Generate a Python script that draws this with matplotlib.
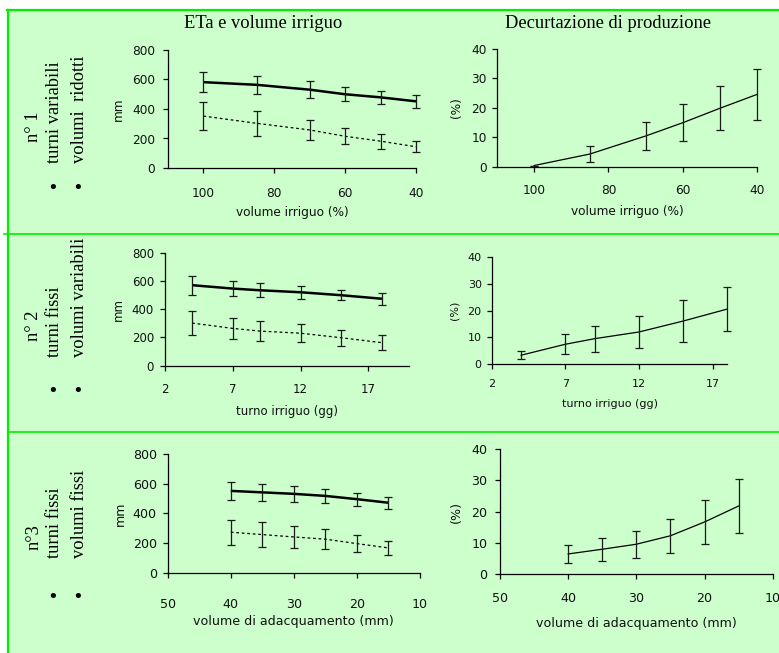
import matplotlib
matplotlib.use("Agg")
import matplotlib.pyplot as plt
from matplotlib.lines import Line2D
from matplotlib.patches import Rectangle

# ---------------- data ----------------
# row 1: variable turns, reduced volumes
vol_pct = [100, 85, 70, 60, 50, 40]
eta1 = [582, 564, 531, 500, 479, 452]
eta1_err = [70, 62, 57, 47, 44, 45]
irr1 = [352, 303, 258, 215, 182, 144]
irr1_err = [97, 83, 67, 55, 50, 37]
dec1 = [0.4, 4.3, 10.4, 14.9, 19.8, 24.5]
dec1_err = [0.0, 2.6, 4.8, 6.2, 7.4, 8.6]

# row 2: fixed turns, variable volumes
turno = [4, 7, 9, 12, 15, 18]
eta2 = [570, 546, 534, 520, 499, 474]
eta2_err = [68, 54, 50, 47, 37, 43]
irr2 = [302, 264, 245, 230, 198, 163]
irr2_err = [85, 74, 68, 62, 58, 55]
dec2 = [3.3, 7.4, 9.5, 12.0, 16.1, 20.6]
dec2_err = [1.4, 3.7, 4.9, 6.1, 8.0, 8.3]

# row 3: fixed turns, fixed volumes
vol_mm = [40, 35, 30, 25, 20, 15]
eta3 = [551, 541, 531, 517, 495, 471]
eta3_err = [60, 56, 52, 50, 44, 41]
irr3 = [272, 256, 240, 225, 195, 166]
irr3_err = [85, 82, 76, 68, 58, 47]
dec3 = [6.5, 8.0, 9.6, 12.3, 16.7, 21.8]
dec3_err = [3.0, 3.7, 4.3, 5.4, 7.1, 8.6]

titles = ["ETa e volume irriguo", "Decurtazione di produzione"]
row_names = ["n° 1", "n° 2", "n°3"]
row_line1 = ["turni variabili", "turni fissi", "turni fissi"]
row_line2 = ["volumi  ridotti", "volumi variabili", "volumi fissi"]
xlabels = ["volume irriguo (%)", "turno irriguo (gg)", "volume di adacquamento (mm)"]
xticks_rows = [[100, 80, 60, 40], [2, 7, 12, 17], [50, 40, 30, 20, 10]]
yticks_left = [0, 200, 400, 600, 800]
yticks_right = [0, 10, 20, 30, 40]

# ---------------- figure ----------------
W, H = 779, 653
fig = plt.figure(figsize=(W / 100, H / 100), dpi=100)
fig.patch.set_facecolor("white")

BG = "#CCFFCC"
GREEN = "#00F000"
SANS = ["DejaVu Sans"]
SERIF = ["Liberation Serif", "DejaVu Serif"]


def fx(px):
    return px / W


def fy(py):
    return 1 - py / H


fig.patches.append(Rectangle((fx(8), 0), 1 - fx(8), fy(10), transform=fig.transFigure,
                             facecolor=BG, edgecolor="none", zorder=-10))
for ln in [
    Line2D([fx(8), fx(8)], [0, fy(9.5)], color=GREEN, lw=1.6),
    Line2D([fx(7.3), 1], [fy(10), fy(10)], color=GREEN, lw=1.6),
    Line2D([fx(4), 1], [fy(234), fy(234)], color=GREEN, lw=1.2),
    Line2D([fx(8), 1], [fy(432), fy(432)], color=GREEN, lw=1.2),
]:
    ln.set_transform(fig.transFigure)
    ln.set_zorder(-5)
    fig.lines.append(ln)

# titles
fig.text(fx(263), fy(28.3), titles[0], family=SERIF, fontsize=13.3, ha="center", va="baseline")
fig.text(fx(608), fy(28.3), titles[1], family=SERIF, fontsize=13.3, ha="center", va="baseline")

# row labels
row_name_y = [127, 326, 537]
row_text_bottom = [163, 357, 558]
row_bullet_y = [188, 391, 597]
for i in range(3):
    fig.text(fx(34), fy(row_name_y[i]), row_names[i], family=SERIF, fontsize=13.3,
             rotation=90, ha="center", va="center")
    fig.text(fx(55), fy(row_text_bottom[i]), row_line1[i], family=SERIF, fontsize=13.3,
             rotation=90, ha="center", va="bottom")
    fig.text(fx(79), fy(row_text_bottom[i]), row_line2[i], family=SERIF, fontsize=13.3,
             rotation=90, ha="center", va="bottom")
    for bx in (53, 77.5):
        fig.text(fx(bx), fy(row_bullet_y[i]), "•", family=["DejaVu Sans"], fontsize=13,
                 ha="center", va="center")

# axes geometry in pixels: x0, x1, ytop, ybottom
geo = {
    (0, 0): (168, 416, 50, 168),
    (0, 1): (497, 757, 48.7, 166.7),
    (1, 0): (165, 409, 252.7, 365.7),
    (1, 1): (491.7, 727.3, 257.3, 364),
    (2, 0): (167.7, 420, 454, 572.5),
    (2, 1): (500, 772.7, 449, 574.3),
}
fsz = {(0, 0): 8.7, (0, 1): 8.7, (1, 0): 8.5, (1, 1): 8.0, (2, 0): 9.1, (2, 1): 9.1}
xpad = {(0, 0): 10, (0, 1): 9.1, (1, 0): 8.5, (1, 1): 6.9, (2, 0): 14.4, (2, 1): 8.9}
ypad = {(0, 0): 5.8, (0, 1): 3.8, (1, 0): 4.3, (1, 1): 3.6, (2, 0): 4.3, (2, 1): 5.5}
xlab_y = {(0, 0): 213, (0, 1): 212, (1, 0): 411.7, (1, 1): 404, (2, 0): 621.7, (2, 1): 623.3}
ylab_x = {(0, 0): 118, (0, 1): 456, (1, 0): 118.3, (1, 1): 455, (2, 0): 120.5, (2, 1): 456}
xlims = {(0, 0): (110, 40), (0, 1): (110, 40), (1, 0): (2, 20), (1, 1): (2, 18),
         (2, 0): (50, 10), (2, 1): (50, 10)}

xs = [vol_pct, turno, vol_mm]
etas = [(eta1, eta1_err), (eta2, eta2_err), (eta3, eta3_err)]
irrs = [(irr1, irr1_err), (irr2, irr2_err), (irr3, irr3_err)]
decs = [(dec1, dec1_err), (dec2, dec2_err), (dec3, dec3_err)]

EB = dict(fmt="none", ecolor="#1a1a1a", elinewidth=0.9, capsize=2.6, capthick=0.9, zorder=3)


def errbars(ax, x, y, e):
    cont = ax.errorbar(x, y, yerr=e, **EB)
    for child in cont.get_children():
        child.set_clip_on(False)


for r in range(3):
    for c in range(2):
        x0, x1, yt, yb = geo[(r, c)]
        ax = fig.add_axes([fx(x0), fy(yb), (x1 - x0) / W, (yb - yt) / H])
        ax.set_facecolor("none")
        ax.set_zorder(2)
        for s in ("top", "right"):
            ax.spines[s].set_visible(False)
        for s in ("left", "bottom"):
            ax.spines[s].set_linewidth(0.9)
            ax.spines[s].set_color("black")
        x = xs[r]
        if c == 0:
            y, e = etas[r]
            ax.plot(x, y, color="black", lw=1.8, solid_capstyle="butt", zorder=2, clip_on=False)
            errbars(ax, x, y, e)
            y, e = irrs[r]
            ax.plot(x, y, color="black", lw=0.9, linestyle=(0, (2.2, 2.2)), zorder=2, clip_on=False)
            errbars(ax, x, y, e)
            ax.set_ylim(0, 800)
            ax.set_yticks(yticks_left)
            ylab = "mm"
        else:
            y, e = decs[r]
            ax.plot(x, y, color="black", lw=0.9, zorder=2, clip_on=False)
            errbars(ax, x, y, e)
            ax.set_ylim(0, 40)
            ax.set_yticks(yticks_right)
            ylab = "(%)"
        ax.set_xlim(*xlims[(r, c)])
        ax.set_xticks(xticks_rows[r])
        ax.set_xticklabels([str(v) for v in xticks_rows[r]])
        f = fsz[(r, c)]
        ax.tick_params(axis="both", direction="out", length=3.6, width=0.9, color="black",
                       labelsize=f, labelcolor="#111111")
        ax.tick_params(axis="x", pad=xpad[(r, c)])
        ax.tick_params(axis="y", pad=ypad[(r, c)])
        for lab in ax.get_xticklabels() + ax.get_yticklabels():
            lab.set_family(SANS)
        ax.set_xlabel(xlabels[r], family=SANS, fontsize=f, color="#111111", va="center")
        ax.xaxis.set_label_coords(0.5, (yb - xlab_y[(r, c)]) / (yb - yt))
        ax.set_ylabel(ylab, family=SANS, fontsize=f, color="#111111", va="center")
        ax.yaxis.set_label_coords((ylab_x[(r, c)] - x0) / (x1 - x0), 0.5)

fig.savefig("out.png", dpi=100, facecolor=fig.get_facecolor())
